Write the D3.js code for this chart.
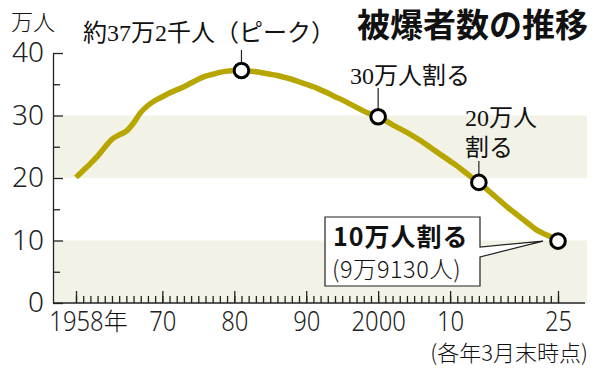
<!DOCTYPE html>
<html>
<head>
<meta charset="utf-8">
<script src="https://cdn.jsdelivr.net/npm/d3@7"></script>
<style>
  body { margin: 0; background: #fff; }
  svg { display: block; }
  .num { font-family: "Noto Sans", "Liberation Sans", sans-serif; font-weight: 300; fill: #222; }
  .jp { font-family: "Noto Sans CJK JP", sans-serif; fill: #111; }
  .mincho { font-family: "Liberation Serif", "DejaVu Serif", "Noto Sans CJK JP", serif; fill: #111; }
</style>
</head>
<body>
<svg id="chart"></svg>
<script>
// 被爆者健康手帳所持者数（各年3月末、万人）
const years = d3.range(1958, 2026)
const survivors = [
    20.1, 21.2, 22.3, 23.5, 24.9, 26.2, 26.9, 27.5, 28.8, 30.5,
    31.6, 32.4, 33.0, 33.6, 34.1, 34.6, 35.2, 35.8, 36.3, 36.6,
    36.9, 37.1, 37.2, 37.2, 37.1, 37.0, 36.8, 36.6, 36.4, 36.1,
    35.8, 35.4, 35.0, 34.6, 34.1, 33.6, 33.0, 32.5, 31.9, 31.3,
    30.7, 30.2, 29.8, 29.2, 28.5, 27.9, 27.3, 26.6, 25.9, 25.1,
    24.3, 23.5, 22.7, 21.9, 21.0, 20.1, 19.3, 18.3, 17.3, 16.3,
    15.3, 14.4, 13.5, 12.6, 11.7, 11.1, 10.6, 9.9,
]
const markerYears = [1981, 2000, 2014, 2025]
const majorYears = [1958, 1970, 1980, 1990, 2000, 2010, 2025]
const majorLabels = ['1958', '70', '80', '90', '2000', '10', '25']
const yTicks = [0, 10, 20, 30, 40]
const yMinorTicks = [5, 15, 25, 35]
const bands = [[0, 10], [20, 30]]

const W = 600, H = 371
const left = 53, right = 587, axisRight = 585

const svg = d3.select('#chart').attr('width', W).attr('height', H)

const x = d3.scaleLinear().domain([1958, 2025]).range([76, 558])
const y = d3.scaleLinear().domain([0, 40]).range([303, 53])

// bands
svg.append('g').selectAll('rect')
    .data(bands)
    .join('rect')
    .attr('x', left)
    .attr('width', right - left)
    .attr('y', d => y(d[1]))
    .attr('height', d => y(d[0]) - y(d[1]))
    .attr('fill', '#f3f2e7')

// y axis
const yAxisG = svg.append('g').attr('transform', `translate(${left},0)`)
yAxisG.call(d3.axisLeft(y).tickValues(yTicks).tickSize(-10).tickPadding(9).tickSizeOuter(0))
yAxisG.append('g').call(d3.axisLeft(y).tickValues(yMinorTicks).tickSize(-7).tickFormat(''))
    .select('.domain').remove()
yAxisG.selectAll('path, line').attr('stroke', '#222').attr('stroke-width', 1.3)
yAxisG.selectAll('text').attr('class', 'num').attr('font-size', 28)

// x axis
const xScaleX = 0.85
const xAxisG = svg.append('g').attr('transform', `translate(0,${y(0)})`)
xAxisG.append('g').call(d3.axisBottom(x).tickValues(years).tickSize(-7).tickFormat(''))
    .select('.domain').remove()
const xMajor = xAxisG.append('g')
    .call(d3.axisBottom(x).tickValues(majorYears).tickSize(-12).tickFormat((d, i) => majorLabels[i]))
xMajor.select('.domain').remove()
xMajor.selectAll('text')
    .attr('class', 'num')
    .attr('font-size', 28)
    .attr('y', 28)
    .attr('dy', 0)
    .attr('transform', `scale(${xScaleX},1)`)
xAxisG.append('line')
    .attr('x1', left).attr('x2', axisRight)
xAxisG.selectAll('line').attr('stroke', '#222').attr('stroke-width', 1.3)

// 「年」 after 1958
const firstLabel = xMajor.select('.tick text').node()
const fw = firstLabel.getComputedTextLength()
xMajor.select('.tick').append('text')
    .attr('class', 'jp')
    .attr('text-anchor', 'start')
    .attr('font-size', 24)
    .attr('font-weight', 300)
    .attr('x', fw * xScaleX / 2)
    .attr('y', 27)
    .text('年')

// unit label
svg.append('text').attr('class', 'jp')
    .attr('x', 11).attr('y', 30)
    .attr('font-size', 22).attr('font-weight', 300)
    .text('万人')

// title
svg.append('text').attr('class', 'jp')
    .attr('x', 588).attr('y', 37)
    .attr('text-anchor', 'end')
    .attr('font-size', 33).attr('font-weight', 'bold')
    .text('被爆者数の推移')

// note
svg.append('text').attr('class', 'jp')
    .attr('x', 588).attr('y', 361)
    .attr('text-anchor', 'end')
    .attr('font-size', 22).attr('font-weight', 300)
    .text('(各年3月末時点)')

// line
const data = years.map((yr, i) => ({ year: yr, value: survivors[i] }))
const line = d3.line()
    .x(d => x(d.year))
    .y(d => y(d.value))
    .curve(d3.curveMonotoneX)

svg.append('path')
    .datum(data)
    .attr('fill', 'none')
    .attr('stroke', '#b7a500')
    .attr('stroke-width', 5.5)
    .attr('stroke-linejoin', 'round')
    .attr('d', line)

// callout box for 2025
const last = data[data.length - 1]
const tipX = x(last.year) - 15, tipY = y(last.value)
svg.append('path')
    .attr('d', `M325,217H480V247L${tipX},${tipY}L480,257V286H325Z`)
    .attr('fill', '#fff')
    .attr('stroke', '#222')
    .attr('stroke-width', 1.2)
svg.append('text').attr('class', 'jp')
    .attr('x', 333).attr('y', 246)
    .attr('font-size', 25).attr('font-weight', 'bold')
    .attr('letter-spacing', 1)
    .text('10万人割る')
svg.append('text').attr('class', 'jp')
    .attr('x', 332).attr('y', 278)
    .attr('font-size', 23.5).attr('font-weight', 300)
    .attr('letter-spacing', 0.5)
    .text('(9万9130人)')

// annotations
const valueAt = yr => survivors[years.indexOf(yr)]
const leaders = [
    { year: 1981, top: 50 },
    { year: 2000, top: 88 },
    { year: 2014, top: 161 },
]
svg.append('g').selectAll('line')
    .data(leaders)
    .join('line')
    .attr('x1', d => x(d.year)).attr('x2', d => x(d.year))
    .attr('y1', d => d.top).attr('y2', d => y(valueAt(d.year)) - 8)
    .attr('stroke', '#222').attr('stroke-width', 1.2)

const notes = [
    { x: 83, y: 41, text: '約37万2千人（ピーク）' },
    { x: 350, y: 84, text: '30万人割る' },
    { x: 465, y: 126, text: '20万人' },
    { x: 465, y: 156, text: '割る' },
]
svg.append('g').selectAll('text')
    .data(notes)
    .join('text')
    .attr('class', 'mincho')
    .attr('x', d => d.x).attr('y', d => d.y)
    .attr('font-size', 24)
    .text(d => d.text)

// markers
svg.append('g').selectAll('circle')
    .data(markerYears)
    .join('circle')
    .attr('cx', d => x(d))
    .attr('cy', d => y(valueAt(d)))
    .attr('r', 7.3)
    .attr('fill', '#fff')
    .attr('stroke', '#000')
    .attr('stroke-width', 3)
</script>
</body>
</html>
